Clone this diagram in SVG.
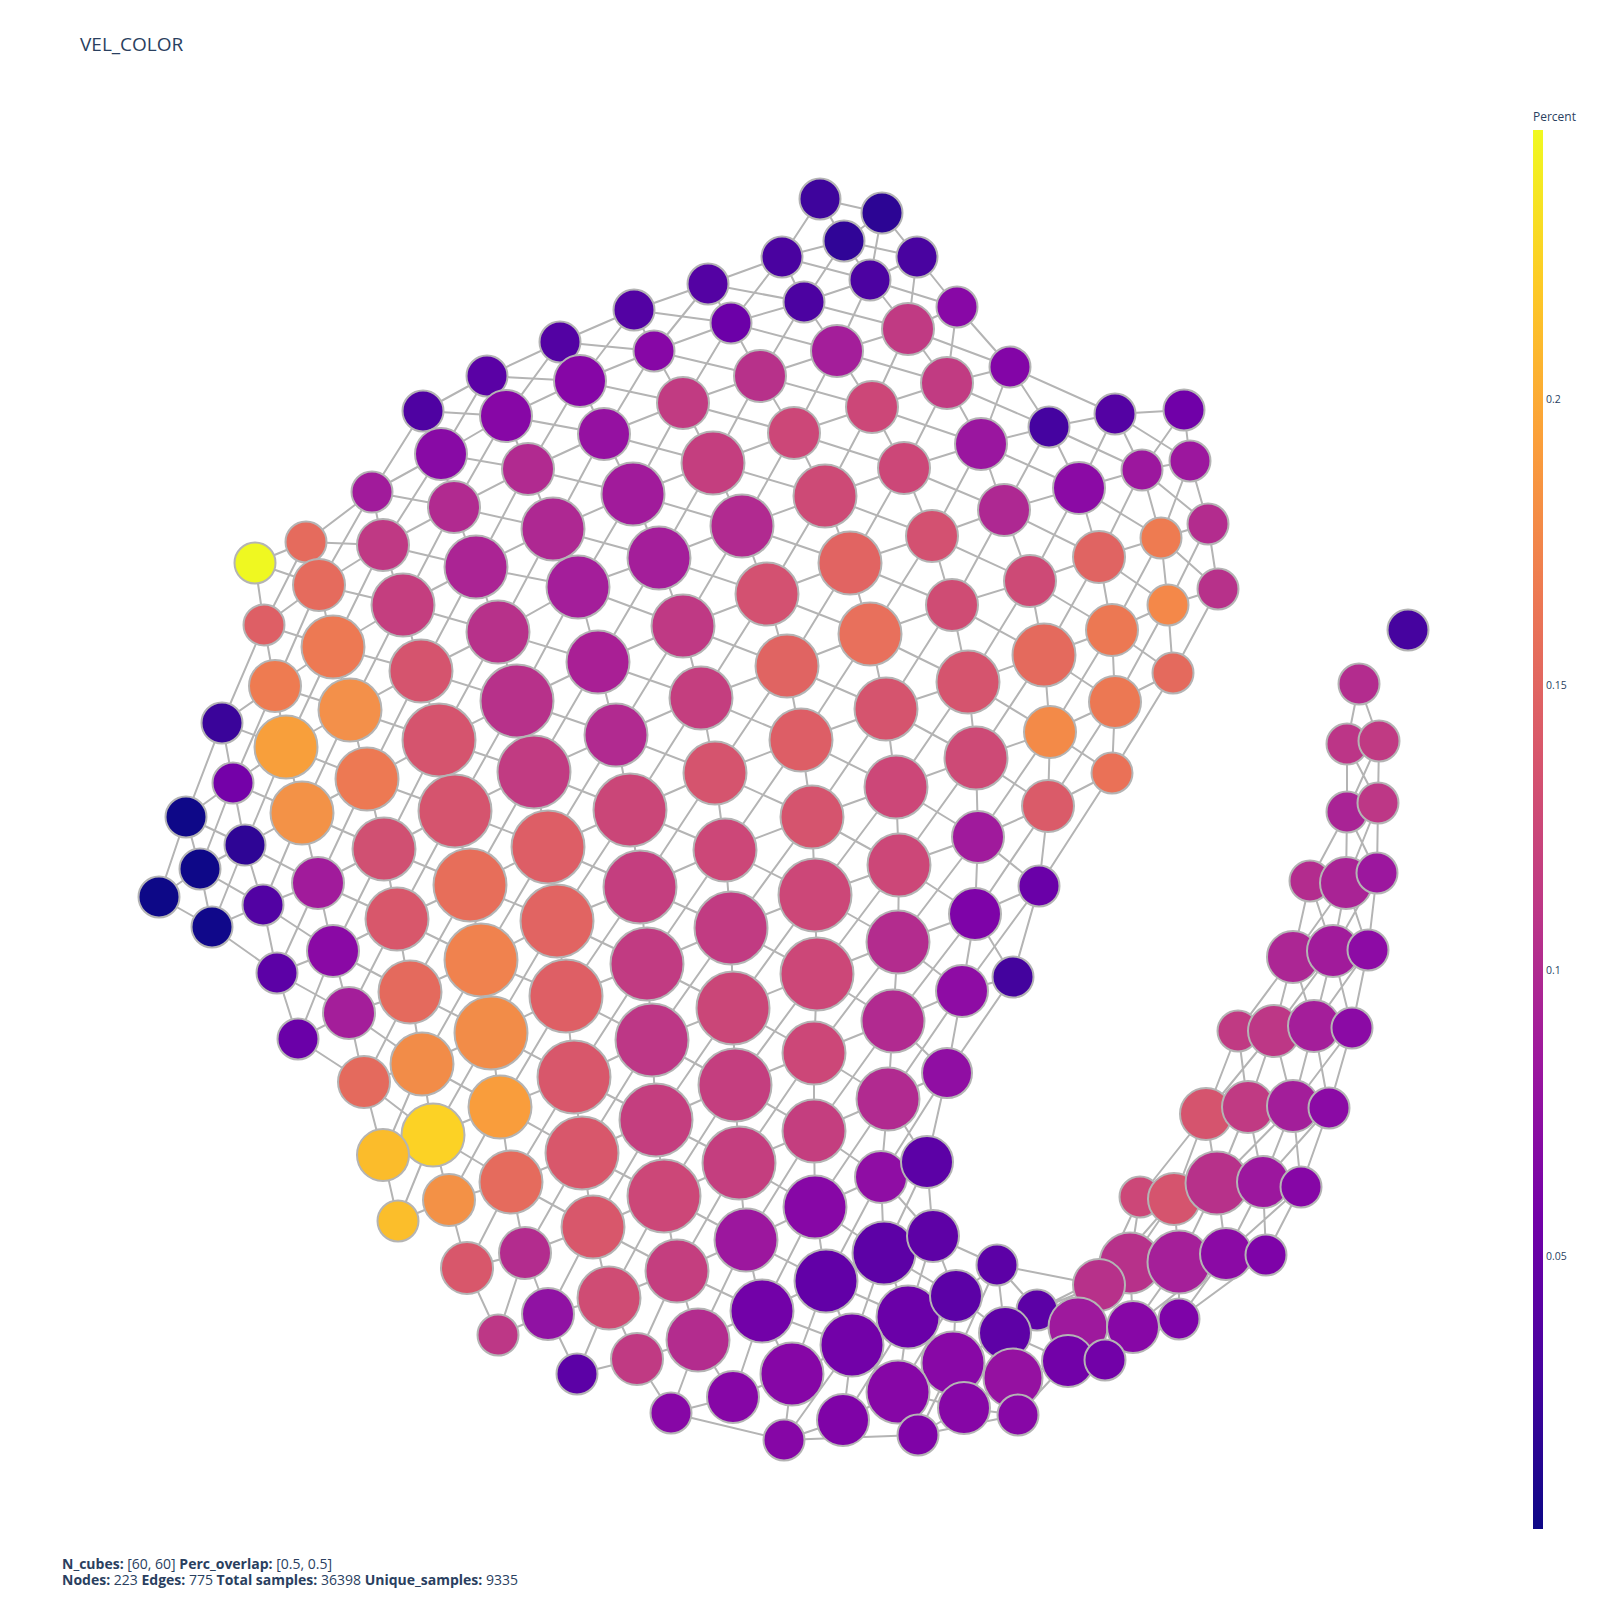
<svg xmlns="http://www.w3.org/2000/svg" width="1600" height="1600" viewBox="0 0 1600 1600">
<style>
.e path{fill:none;stroke:#b4b4b4;stroke-width:2;stroke-linejoin:round}
#nodes circle{stroke:#b4b4b4;stroke-width:2}
text{font-family:"Open Sans","Liberation Sans",Arial,sans-serif;fill:#2a3f5f}
.b{font-weight:bold}
</style>
<defs>
<linearGradient id="plasma" x1="0" y1="1" x2="0" y2="0">
<stop offset="0" stop-color="#0d0887"/>
<stop offset="0.111" stop-color="#46039f"/>
<stop offset="0.222" stop-color="#7201a8"/>
<stop offset="0.333" stop-color="#9c179e"/>
<stop offset="0.444" stop-color="#bd3786"/>
<stop offset="0.556" stop-color="#d8576b"/>
<stop offset="0.667" stop-color="#ed7953"/>
<stop offset="0.778" stop-color="#fb9f3a"/>
<stop offset="0.889" stop-color="#fdca26"/>
<stop offset="1" stop-color="#f0f921"/>
</linearGradient>
</defs>
<rect width="1600" height="1600" fill="#ffffff"/>
<text x="80" y="51" font-size="19">VEL_COLOR</text>
<g id="edges" class="e">
<path d="M186 817L200 869L212 927"/>
<path d="M222 723L233 783L245 845L263 905L277 973L298 1039"/>
<path d="M255 563L264 625L275 686L286 747L302 813L318 883L333 951L349 1013L364 1082L383 1155L398 1221"/>
<path d="M306 542L319 585L333 647L350 710L367 779L384 849L397 919L410 992L422 1064L433 1135L449 1200L467 1268L498 1335"/>
<path d="M372 492L383 545L403 605L421 671L439 740L455 811L470 885L481 960L491 1033L500 1107L511 1182L525 1253L548 1314L577 1374"/>
<path d="M423 411L441 454L454 507L476 567L498 632L517 701L534 772L548 847L557 921L566 996L574 1077L582 1153L593 1227L609 1298L637 1359L671 1413"/>
<path d="M487 376L506 416L528 469L553 529L578 587L598 662L616 735L630 810L640 887L647 964L652 1040L656 1120L664 1196L677 1271L698 1340L733 1397"/>
<path d="M560 342L580 381L604 434L633 494L659 558L683 626L701 698L715 773L725 850L731 928L733 1008L735 1085L739 1163L746 1240L762 1311L792 1374L784 1440"/>
<path d="M634 310L654 351L683 403L713 463L742 526L767 594L787 666L801 740L812 817L815 895L817 974L814 1053L814 1131L815 1207L826 1281L852 1345L843 1420"/>
<path d="M708 284L731 323L760 376L794 433L825 496L850 563L870 634L886 709L896 787L899 865L898 942L893 1021L888 1099L881 1177L884 1253L908 1317L898 1392L918 1435"/>
<path d="M782 257L804 302L837 351L872 407L904 468L932 536L952 605L968 682L976 758L978 837L975 914L962 991L947 1073L927 1162L933 1236L956 1296L953 1363L964 1408"/>
<path d="M820 199L844 241L870 280L908 329L947 383L981 444L1004 510L1030 581L1044 655L1050 732L1048 806L1039 886L1013 977"/>
<path d="M997 1265L1005 1333L1013 1378L1018 1415"/>
<path d="M882 213L917 257L957 307L1010 367L1049 427L1079 488L1099 557L1112 630L1115 702L1112 773"/>
<path d="M1115 414L1142 470L1161 538L1168 605L1173 673"/>
<path d="M1184 410L1190 461L1208 524L1218 589"/>
<path d="M423 411L487 376L560 342L634 310L708 284L782 257L844 241L882 213"/>
<path d="M255 563L306 542L372 492L441 454L506 416L580 381L654 351L731 323L804 302L870 280L917 257"/>
<path d="M264 625L319 585L383 545L454 507L528 469L604 434L683 403L760 376L837 351L908 329L957 307"/>
<path d="M222 723L275 686L333 647L403 605L476 567L553 529L633 494L713 463L794 433L872 407L947 383L1010 367"/>
<path d="M186 817L233 783L286 747L350 710L421 671L498 632L578 587L659 558L742 526L825 496L904 468L981 444L1049 427L1115 414L1184 410"/>
<path d="M159 897L200 869L245 845L302 813L367 779L439 740L517 701L598 662L683 626L767 594L850 563L932 536L1004 510L1079 488L1142 470L1190 461"/>
<path d="M212 927L263 905L318 883L384 849L455 811L534 772L616 735L701 698L787 666L870 634L952 605L1030 581L1099 557L1161 538L1208 524"/>
<path d="M277 973L333 951L397 919L470 885L548 847L630 810L715 773L801 740L886 709L968 682L1044 655L1112 630L1168 605L1218 589"/>
<path d="M298 1039L349 1013L410 992L481 960L557 921L640 887L725 850L812 817L896 787L976 758L1050 732L1115 702L1173 673"/>
<path d="M364 1082L422 1064L491 1033L566 996L647 964L731 928L815 895L899 865L978 837L1048 806L1112 773"/>
<path d="M383 1155L433 1135L500 1107L574 1077L652 1040L733 1008L817 974L898 942L975 914L1039 886"/>
<path d="M398 1221L449 1200L511 1182L582 1153L656 1120L735 1085L814 1053L893 1021L962 991L1013 977"/>
<path d="M467 1268L525 1253L593 1227L664 1196L739 1163L814 1131L888 1099L947 1073"/>
<path d="M498 1335L548 1314L609 1298L677 1271L746 1240L815 1207L881 1177L927 1162"/>
<path d="M577 1374L637 1359L698 1340L762 1311L826 1281L884 1253L933 1236"/>
<path d="M671 1413L733 1397L792 1374L852 1345L908 1317L956 1296L997 1265"/>
<path d="M784 1440L843 1420L898 1392L953 1363L1005 1333"/>
<path d="M918 1435L964 1408L1013 1378"/>
<path d="M298 1039L364 1082L433 1135L511 1182L593 1227L677 1271L762 1311L852 1345L898 1392L964 1408L1018 1415"/>
<path d="M159 897L212 927L277 973L349 1013L422 1064L500 1107L582 1153L664 1196L746 1240L826 1281L908 1317L953 1363L1013 1378"/>
<path d="M200 869L263 905L333 951L410 992L491 1033L574 1077L656 1120L739 1163L815 1207L884 1253L956 1296L1005 1333"/>
<path d="M186 817L245 845L318 883L397 919L481 960L566 996L652 1040L735 1085L814 1131L881 1177L933 1236L997 1265"/>
<path d="M233 783L302 813L384 849L470 885L557 921L647 964L733 1008L814 1053L888 1099L927 1162"/>
<path d="M222 723L286 747L367 779L455 811L548 847L640 887L731 928L817 974L893 1021L947 1073"/>
<path d="M275 686L350 710L439 740L534 772L630 810L725 850L815 895L898 942L962 991"/>
<path d="M264 625L333 647L421 671L517 701L616 735L715 773L812 817L899 865L975 914L1013 977"/>
<path d="M255 563L319 585L403 605L498 632L598 662L701 698L801 740L896 787L978 837L1039 886"/>
<path d="M306 542L383 545L476 567L578 587L683 626L787 666L886 709L976 758L1048 806"/>
<path d="M372 492L454 507L553 529L659 558L767 594L870 634L968 682L1050 732L1112 773"/>
<path d="M441 454L528 469L633 494L742 526L850 563L952 605L1044 655L1115 702"/>
<path d="M423 411L506 416L604 434L713 463L825 496L932 536L1030 581L1112 630L1173 673"/>
<path d="M487 376L580 381L683 403L794 433L904 468L1004 510L1099 557L1168 605"/>
<path d="M560 342L654 351L760 376L872 407L981 444L1079 488L1161 538L1218 589"/>
<path d="M634 310L731 323L837 351L947 383L1049 427L1142 470L1208 524"/>
<path d="M708 284L804 302L908 329L1010 367L1115 414L1190 461"/>
<path d="M782 257L870 280L957 307"/>
<path d="M844 241L917 257"/>
<path d="M820 199L882 213"/>
<path d="M159 897L186 817L222 723L264 625L306 542"/>
<path d="M200 869L233 783L275 686L319 585L372 492L423 411"/>
<path d="M212 927L245 845L286 747L333 647L383 545L441 454L487 376"/>
<path d="M263 905L302 813L350 710L403 605L454 507L506 416L560 342"/>
<path d="M277 973L318 883L367 779L421 671L476 567L528 469L580 381L634 310"/>
<path d="M298 1039L333 951L384 849L439 740L498 632L553 529L604 434L654 351L708 284"/>
<path d="M349 1013L397 919L455 811L517 701L578 587L633 494L683 403L731 323L782 257L820 199"/>
<path d="M364 1082L410 992L470 885L534 772L598 662L659 558L713 463L760 376L804 302L844 241"/>
<path d="M383 1155L422 1064L481 960L548 847L616 735L683 626L742 526L794 433L837 351L870 280L882 213"/>
<path d="M398 1221L433 1135L491 1033L557 921L630 810L701 698L767 594L825 496L872 407L908 329L917 257"/>
<path d="M449 1200L500 1107L566 996L640 887L715 773L787 666L850 563L904 468L947 383L957 307"/>
<path d="M467 1268L511 1182L574 1077L647 964L725 850L801 740L870 634L932 536L981 444L1010 367"/>
<path d="M498 1335L525 1253L582 1153L652 1040L731 928L812 817L886 709L952 605L1004 510L1049 427"/>
<path d="M548 1314L593 1227L656 1120L733 1008L815 895L896 787L968 682L1030 581L1079 488L1115 414"/>
<path d="M577 1374L609 1298L664 1196L735 1085L817 974L899 865L976 758L1044 655L1099 557L1142 470L1184 410"/>
<path d="M637 1359L677 1271L739 1163L814 1053L898 942L978 837L1050 732L1112 630L1161 538L1190 461"/>
<path d="M671 1413L698 1340L746 1240L814 1131L893 1021L975 914L1048 806L1115 702L1168 605L1208 524"/>
<path d="M733 1397L762 1311L815 1207L888 1099L962 991L1039 886L1112 773L1173 673L1218 589"/>
<path d="M792 1374L826 1281L881 1177L947 1073L1013 977"/>
<path d="M784 1440L852 1345L884 1253L927 1162"/>
<path d="M843 1420L908 1317L933 1236"/>
<path d="M898 1392L956 1296"/>
<path d="M918 1435L953 1363L997 1265"/>
<path d="M964 1408L1005 1333"/>
<path d="M671 1413L784 1440L918 1435L1018 1415"/>
<path d="M1359 684L1347 744M1359 684L1379 741M1347 744L1379 741M1347 744L1347 812M1379 741L1378 803M1347 744L1378 803M1379 741L1347 812M1347 812L1378 803M1347 812L1310 881M1347 812L1346 883M1347 812L1377 873M1378 803L1346 883M1378 803L1377 873M1310 881L1346 883L1377 873"/>
<path d="M1310 881L1293 957M1310 881L1333 951M1346 883L1293 957M1346 883L1333 951M1346 883L1368 950M1377 873L1333 951M1377 873L1368 950M1293 957L1333 951L1368 950"/>
<path d="M1293 957L1238 1031M1293 957L1274 1031M1293 957L1314 1026M1333 951L1274 1031M1333 951L1314 1026M1333 951L1352 1028M1368 950L1314 1026M1368 950L1352 1028M1238 1031L1274 1031L1314 1026L1352 1028"/>
<path d="M1238 1031L1206 1114M1238 1031L1248 1107M1274 1031L1206 1114M1274 1031L1248 1107M1274 1031L1293 1106M1314 1026L1293 1106M1314 1026L1329 1108M1352 1028L1293 1106M1352 1028L1329 1108M1206 1114L1248 1107L1293 1106L1329 1108"/>
<path d="M1206 1114L1140 1197M1206 1114L1174 1199M1206 1114L1217 1183M1248 1107L1217 1183M1248 1107L1263 1182M1293 1106L1217 1183M1293 1106L1263 1182M1293 1106L1301 1187M1329 1108L1263 1182M1329 1108L1301 1187M1140 1197L1174 1199L1217 1183L1263 1182L1301 1187"/>
<path d="M1140 1197L1099 1285M1140 1197L1130 1263M1174 1199L1130 1263M1174 1199L1099 1285M1174 1199L1179 1262M1217 1183L1179 1262M1217 1183L1226 1254M1263 1182L1226 1254M1263 1182L1266 1255M1301 1187L1266 1255M1301 1187L1226 1254M1099 1285L1130 1263L1179 1262L1226 1254L1266 1255"/>
<path d="M1099 1285L1037 1310M1099 1285L1078 1327M1130 1263L1037 1310M1130 1263L1078 1327M1130 1263L1133 1327M1179 1262L1133 1327M1179 1262L1179 1319M1226 1254L1179 1319M1226 1254L1133 1327M1266 1255L1179 1319M1037 1310L1078 1327L1133 1327L1179 1319"/>
<path d="M1037 1310L1068 1361M1078 1327L1068 1361M1078 1327L1105 1360M1133 1327L1105 1360M1179 1319L1105 1360M1068 1361L1105 1360M997 1265L1037 1310M997 1265L1099 1285M1005 1333L1037 1310M1005 1333L1068 1361M1013 1378L1068 1361M1018 1415L1068 1361"/>
</g>
<g id="nodes">
<g id="n1"><circle cx="820" cy="199" r="20.5" fill="#3e049c"/></g>
<g id="n2"><circle cx="882" cy="213" r="20.5" fill="#2c0594"/></g>
<g id="n3"><circle cx="844" cy="241" r="20.5" fill="#300597"/></g>
<g id="n4"><circle cx="782" cy="257" r="20.5" fill="#4a02a0"/></g>
<g id="n5"><circle cx="917" cy="257" r="20.5" fill="#4903a0"/></g>
<g id="n6"><circle cx="708" cy="284" r="20.5" fill="#5402a3"/></g>
<g id="n7"><circle cx="870" cy="280" r="20.5" fill="#4c02a1"/></g>
<g id="n8"><circle cx="804" cy="302" r="20.5" fill="#4c02a1"/></g>
<g id="n9"><circle cx="634" cy="310" r="20.5" fill="#5302a3"/></g>
<g id="n10"><circle cx="957" cy="307" r="20.5" fill="#8808a6"/></g>
<g id="n11"><circle cx="731" cy="323" r="20.5" fill="#6c00a8"/></g>
<g id="n12"><circle cx="908" cy="329" r="26" fill="#c03a83"/></g>
<g id="n13"><circle cx="560" cy="342" r="20.5" fill="#5302a3"/></g>
<g id="n14"><circle cx="654" cy="351" r="20.5" fill="#8707a6"/></g>
<g id="n15"><circle cx="837" cy="351" r="26" fill="#a41e9a"/></g>
<g id="n16"><circle cx="1010" cy="367" r="20.5" fill="#8305a7"/></g>
<g id="n17"><circle cx="580" cy="381" r="26" fill="#8606a6"/></g>
<g id="n18"><circle cx="760" cy="376" r="26" fill="#b7318a"/></g>
<g id="n19"><circle cx="947" cy="383" r="26" fill="#c13b82"/></g>
<g id="n20"><circle cx="487" cy="376" r="20.5" fill="#5a01a5"/></g>
<g id="n21"><circle cx="423" cy="411" r="20.5" fill="#4f02a2"/></g>
<g id="n22"><circle cx="506" cy="416" r="26" fill="#8707a6"/></g>
<g id="n23"><circle cx="683" cy="403" r="26" fill="#c13b82"/></g>
<g id="n24"><circle cx="872" cy="407" r="26" fill="#cc4778"/></g>
<g id="n25"><circle cx="1049" cy="427" r="20.5" fill="#4503a0"/></g>
<g id="n26"><circle cx="1115" cy="414" r="20.5" fill="#5402a3"/></g>
<g id="n27"><circle cx="1184" cy="410" r="20.5" fill="#7000a8"/></g>
<g id="n28"><circle cx="604" cy="434" r="26" fill="#9511a1"/></g>
<g id="n29"><circle cx="794" cy="433" r="26" fill="#cc4778"/></g>
<g id="n30"><circle cx="981" cy="444" r="26" fill="#9a169f"/></g>
<g id="n31"><circle cx="441" cy="454" r="26" fill="#880aa5"/></g>
<g id="n32"><circle cx="1142" cy="470" r="20.5" fill="#9c179e"/></g>
<g id="n33"><circle cx="1190" cy="461" r="20.5" fill="#9c179e"/></g>
<g id="n34"><circle cx="528" cy="469" r="26" fill="#b12a90"/></g>
<g id="n35"><circle cx="713" cy="463" r="31.5" fill="#c43e7f"/></g>
<g id="n36"><circle cx="904" cy="468" r="26" fill="#cc4778"/></g>
<g id="n37"><circle cx="1079" cy="488" r="26" fill="#8b0aa5"/></g>
<g id="n38"><circle cx="372" cy="492" r="20.5" fill="#a11b9b"/></g>
<g id="n39"><circle cx="454" cy="507" r="26" fill="#b12a90"/></g>
<g id="n40"><circle cx="633" cy="494" r="31.5" fill="#a11b9b"/></g>
<g id="n41"><circle cx="825" cy="496" r="31.5" fill="#cd4a76"/></g>
<g id="n42"><circle cx="1004" cy="510" r="26" fill="#ae2892"/></g>
<g id="n43"><circle cx="553" cy="529" r="31.5" fill="#ae2892"/></g>
<g id="n44"><circle cx="742" cy="526" r="31.5" fill="#b12a90"/></g>
<g id="n45"><circle cx="932" cy="536" r="26" fill="#d35171"/></g>
<g id="n46"><circle cx="1161" cy="538" r="20.5" fill="#ee7b51"/></g>
<g id="n47"><circle cx="1208" cy="524" r="20.5" fill="#b32c8e"/></g>
<g id="n48"><circle cx="306" cy="542" r="20.5" fill="#e56b5d"/></g>
<g id="n49"><circle cx="255" cy="563" r="20.5" fill="#eff821"/></g>
<g id="n50"><circle cx="383" cy="545" r="26" fill="#bf3984"/></g>
<g id="n51"><circle cx="476" cy="567" r="31.5" fill="#ab2494"/></g>
<g id="n52"><circle cx="659" cy="558" r="31.5" fill="#a41e9a"/></g>
<g id="n53"><circle cx="850" cy="563" r="31.5" fill="#e16462"/></g>
<g id="n54"><circle cx="1099" cy="557" r="26" fill="#e06462"/></g>
<g id="n55"><circle cx="1030" cy="581" r="26" fill="#cd4a76"/></g>
<g id="n56"><circle cx="319" cy="585" r="26" fill="#e56b5d"/></g>
<g id="n57"><circle cx="403" cy="605" r="31.5" fill="#c43e7f"/></g>
<g id="n58"><circle cx="578" cy="587" r="31.5" fill="#a41e9a"/></g>
<g id="n59"><circle cx="767" cy="594" r="31.5" fill="#d35171"/></g>
<g id="n60"><circle cx="952" cy="605" r="26" fill="#cf4c74"/></g>
<g id="n61"><circle cx="1168" cy="605" r="20.5" fill="#f48849"/></g>
<g id="n62"><circle cx="1218" cy="589" r="20.5" fill="#b7318a"/></g>
<g id="n63"><circle cx="1112" cy="630" r="26" fill="#ec7853"/></g>
<g id="n64"><circle cx="1408" cy="630" r="20.5" fill="#46039f"/></g>
<g id="n65"><circle cx="264" cy="625" r="20.5" fill="#de5f65"/></g>
<g id="n66"><circle cx="333" cy="647" r="31.5" fill="#ed7953"/></g>
<g id="n67"><circle cx="498" cy="632" r="31.5" fill="#b7318a"/></g>
<g id="n68"><circle cx="683" cy="626" r="31.5" fill="#bf3984"/></g>
<g id="n69"><circle cx="870" cy="634" r="31.5" fill="#e8705c"/></g>
<g id="n70"><circle cx="421" cy="671" r="31.5" fill="#d5546e"/></g>
<g id="n71"><circle cx="275" cy="686" r="26" fill="#ee7b51"/></g>
<g id="n72"><circle cx="350" cy="710" r="31.5" fill="#f3904a"/></g>
<g id="n73"><circle cx="517" cy="701" r="36.5" fill="#b7318a"/></g>
<g id="n74"><circle cx="598" cy="662" r="31.5" fill="#a91f95"/></g>
<g id="n75"><circle cx="787" cy="666" r="31.5" fill="#e06462"/></g>
<g id="n76"><circle cx="968" cy="682" r="31.5" fill="#d5546e"/></g>
<g id="n77"><circle cx="1044" cy="655" r="31.5" fill="#e46a5d"/></g>
<g id="n78"><circle cx="1173" cy="673" r="20.5" fill="#e46a5d"/></g>
<g id="n79"><circle cx="1359" cy="684" r="20.5" fill="#b32c8e"/></g>
<g id="n80"><circle cx="222" cy="723" r="20.5" fill="#3a049a"/></g>
<g id="n81"><circle cx="286" cy="747" r="31.5" fill="#f89f3b"/></g>
<g id="n82"><circle cx="439" cy="740" r="36.5" fill="#d5546e"/></g>
<g id="n83"><circle cx="616" cy="735" r="31.5" fill="#b12a90"/></g>
<g id="n84"><circle cx="701" cy="698" r="31.5" fill="#c43e7f"/></g>
<g id="n85"><circle cx="886" cy="709" r="31.5" fill="#d5546e"/></g>
<g id="n86"><circle cx="1115" cy="702" r="26" fill="#ec7853"/></g>
<g id="n87"><circle cx="1050" cy="732" r="26" fill="#f38a48"/></g>
<g id="n88"><circle cx="1347" cy="744" r="20.5" fill="#bc3587"/></g>
<g id="n89"><circle cx="1379" cy="741" r="20.5" fill="#c03a83"/></g>
<g id="n90"><circle cx="233" cy="783" r="20.5" fill="#7401a8"/></g>
<g id="n91"><circle cx="367" cy="779" r="31.5" fill="#ed7953"/></g>
<g id="n92"><circle cx="534" cy="772" r="36.5" fill="#c13b82"/></g>
<g id="n93"><circle cx="801" cy="740" r="31.5" fill="#dd5e66"/></g>
<g id="n94"><circle cx="976" cy="758" r="31.5" fill="#cd4a76"/></g>
<g id="n95"><circle cx="715" cy="773" r="31.5" fill="#d5546e"/></g>
<g id="n96"><circle cx="1112" cy="773" r="20.5" fill="#ea7157"/></g>
<g id="n97"><circle cx="186" cy="817" r="20.5" fill="#0e0888"/></g>
<g id="n98"><circle cx="302" cy="813" r="31.5" fill="#f39247"/></g>
<g id="n99"><circle cx="455" cy="811" r="36.5" fill="#d5546e"/></g>
<g id="n100"><circle cx="630" cy="810" r="36.5" fill="#ca4678"/></g>
<g id="n101"><circle cx="896" cy="787" r="31.5" fill="#cc4778"/></g>
<g id="n102"><circle cx="1048" cy="806" r="26" fill="#da5b69"/></g>
<g id="n103"><circle cx="1347" cy="812" r="20.5" fill="#a92395"/></g>
<g id="n104"><circle cx="1378" cy="803" r="20.5" fill="#bd3786"/></g>
<g id="n105"><circle cx="245" cy="845" r="20.5" fill="#2e0595"/></g>
<g id="n106"><circle cx="384" cy="849" r="31.5" fill="#d05072"/></g>
<g id="n107"><circle cx="548" cy="847" r="36.5" fill="#dd5e66"/></g>
<g id="n108"><circle cx="812" cy="817" r="31.5" fill="#d5546e"/></g>
<g id="n109"><circle cx="725" cy="850" r="31.5" fill="#cc4778"/></g>
<g id="n110"><circle cx="978" cy="837" r="26" fill="#a01a9c"/></g>
<g id="n111"><circle cx="200" cy="869" r="20.5" fill="#0e0888"/></g>
<g id="n112"><circle cx="318" cy="883" r="26" fill="#a11b9b"/></g>
<g id="n113"><circle cx="470" cy="885" r="36.5" fill="#e76e5a"/></g>
<g id="n114"><circle cx="640" cy="887" r="36.5" fill="#c43e7f"/></g>
<g id="n115"><circle cx="899" cy="865" r="31.5" fill="#cc4778"/></g>
<g id="n116"><circle cx="1039" cy="886" r="20.5" fill="#6a00a8"/></g>
<g id="n117"><circle cx="1310" cy="881" r="20.5" fill="#b32c8e"/></g>
<g id="n118"><circle cx="1346" cy="883" r="26" fill="#a92395"/></g>
<g id="n119"><circle cx="1377" cy="873" r="20.5" fill="#9c179e"/></g>
<g id="n120"><circle cx="159" cy="897" r="20.5" fill="#0d0887"/></g>
<g id="n121"><circle cx="263" cy="905" r="20.5" fill="#5202a3"/></g>
<g id="n122"><circle cx="397" cy="919" r="31.5" fill="#d8576b"/></g>
<g id="n123"><circle cx="557" cy="921" r="36.5" fill="#e16462"/></g>
<g id="n124"><circle cx="815" cy="895" r="36.5" fill="#cc4778"/></g>
<g id="n125"><circle cx="975" cy="914" r="26" fill="#7e03a8"/></g>
<g id="n126"><circle cx="212" cy="927" r="20.5" fill="#10088a"/></g>
<g id="n127"><circle cx="333" cy="951" r="26" fill="#8a09a5"/></g>
<g id="n128"><circle cx="481" cy="960" r="36.5" fill="#f0824e"/></g>
<g id="n129"><circle cx="731" cy="928" r="36.5" fill="#c13b82"/></g>
<g id="n130"><circle cx="898" cy="942" r="31.5" fill="#b32c8e"/></g>
<g id="n131"><circle cx="1293" cy="957" r="26" fill="#ac2694"/></g>
<g id="n132"><circle cx="1333" cy="951" r="26" fill="#a11b9b"/></g>
<g id="n133"><circle cx="1368" cy="950" r="20.5" fill="#8d0ba5"/></g>
<g id="n134"><circle cx="277" cy="973" r="20.5" fill="#5c01a6"/></g>
<g id="n135"><circle cx="410" cy="992" r="31.5" fill="#e46a5d"/></g>
<g id="n136"><circle cx="566" cy="996" r="36.5" fill="#de5f65"/></g>
<g id="n137"><circle cx="647" cy="964" r="36.5" fill="#c13b82"/></g>
<g id="n138"><circle cx="817" cy="974" r="36.5" fill="#cc4778"/></g>
<g id="n139"><circle cx="962" cy="991" r="26" fill="#8e0ca4"/></g>
<g id="n140"><circle cx="1013" cy="977" r="20.5" fill="#44039e"/></g>
<g id="n141"><circle cx="349" cy="1013" r="26" fill="#a41e9a"/></g>
<g id="n142"><circle cx="298" cy="1039" r="20.5" fill="#6a00a8"/></g>
<g id="n143"><circle cx="491" cy="1033" r="36.5" fill="#f28c48"/></g>
<g id="n144"><circle cx="733" cy="1008" r="36.5" fill="#ca4678"/></g>
<g id="n145"><circle cx="893" cy="1021" r="31.5" fill="#b12a90"/></g>
<g id="n146"><circle cx="1238" cy="1031" r="20.5" fill="#c03a83"/></g>
<g id="n147"><circle cx="1274" cy="1031" r="26" fill="#bd3786"/></g>
<g id="n148"><circle cx="1314" cy="1026" r="26" fill="#a41e9a"/></g>
<g id="n149"><circle cx="1352" cy="1028" r="20.5" fill="#8b0aa5"/></g>
<g id="n150"><circle cx="652" cy="1040" r="36.5" fill="#bd3786"/></g>
<g id="n151"><circle cx="814" cy="1053" r="31.5" fill="#cc4778"/></g>
<g id="n152"><circle cx="364" cy="1082" r="26" fill="#e46a5d"/></g>
<g id="n153"><circle cx="422" cy="1064" r="31.5" fill="#f28c48"/></g>
<g id="n154"><circle cx="574" cy="1077" r="36.5" fill="#d8576b"/></g>
<g id="n155"><circle cx="947" cy="1073" r="25" fill="#900ea3"/></g>
<g id="n156"><circle cx="735" cy="1085" r="36.5" fill="#c43e7f"/></g>
<g id="n157"><circle cx="500" cy="1107" r="31.5" fill="#f99d3c"/></g>
<g id="n158"><circle cx="656" cy="1120" r="36.5" fill="#c43e7f"/></g>
<g id="n159"><circle cx="888" cy="1099" r="31.5" fill="#b12a90"/></g>
<g id="n160"><circle cx="1206" cy="1114" r="26" fill="#d5546e"/></g>
<g id="n161"><circle cx="1248" cy="1107" r="26" fill="#c03a83"/></g>
<g id="n162"><circle cx="1293" cy="1106" r="26" fill="#a31e9a"/></g>
<g id="n163"><circle cx="1329" cy="1108" r="20.5" fill="#8b0aa5"/></g>
<g id="n164"><circle cx="433" cy="1135" r="31.5" fill="#fcd225"/></g>
<g id="n165"><circle cx="383" cy="1155" r="26" fill="#fbbc2b"/></g>
<g id="n166"><circle cx="582" cy="1153" r="36.5" fill="#d8576b"/></g>
<g id="n167"><circle cx="739" cy="1163" r="36.5" fill="#c43e7f"/></g>
<g id="n168"><circle cx="814" cy="1131" r="31.5" fill="#c43e7f"/></g>
<g id="n169"><circle cx="881" cy="1177" r="26" fill="#8f0da4"/></g>
<g id="n170"><circle cx="927" cy="1162" r="26" fill="#5c01a6"/></g>
<g id="n171"><circle cx="511" cy="1182" r="31.5" fill="#e56b5d"/></g>
<g id="n172"><circle cx="449" cy="1200" r="26" fill="#f39146"/></g>
<g id="n173"><circle cx="664" cy="1196" r="36.5" fill="#cc4778"/></g>
<g id="n174"><circle cx="1140" cy="1197" r="20.5" fill="#cc4778"/></g>
<g id="n175"><circle cx="1174" cy="1199" r="26" fill="#d5546e"/></g>
<g id="n176"><circle cx="1217" cy="1183" r="31.5" fill="#b7318a"/></g>
<g id="n177"><circle cx="1263" cy="1182" r="26" fill="#9c179e"/></g>
<g id="n178"><circle cx="1301" cy="1187" r="20.5" fill="#8606a6"/></g>
<g id="n179"><circle cx="398" cy="1221" r="20.5" fill="#fbbe2b"/></g>
<g id="n180"><circle cx="593" cy="1227" r="31.5" fill="#d8576b"/></g>
<g id="n181"><circle cx="815" cy="1207" r="31.5" fill="#8707a6"/></g>
<g id="n182"><circle cx="746" cy="1240" r="31.5" fill="#9c179e"/></g>
<g id="n183"><circle cx="884" cy="1253" r="31.5" fill="#5d01a6"/></g>
<g id="n184"><circle cx="933" cy="1236" r="26" fill="#5e01a6"/></g>
<g id="n185"><circle cx="467" cy="1268" r="26" fill="#d8576b"/></g>
<g id="n186"><circle cx="525" cy="1253" r="26" fill="#b32c8e"/></g>
<g id="n187"><circle cx="677" cy="1271" r="31.5" fill="#c43e7f"/></g>
<g id="n188"><circle cx="997" cy="1265" r="20.5" fill="#5c01a6"/></g>
<g id="n189"><circle cx="1130" cy="1263" r="30.5" fill="#b7318a"/></g>
<g id="n190"><circle cx="1099" cy="1285" r="26" fill="#b7318a"/></g>
<g id="n191"><circle cx="1179" cy="1262" r="31.5" fill="#a51f99"/></g>
<g id="n192"><circle cx="1226" cy="1254" r="26" fill="#8b0aa5"/></g>
<g id="n193"><circle cx="1266" cy="1255" r="20.5" fill="#7e03a8"/></g>
<g id="n194"><circle cx="609" cy="1298" r="31.5" fill="#cf4c74"/></g>
<g id="n195"><circle cx="826" cy="1281" r="31.5" fill="#6200a7"/></g>
<g id="n196"><circle cx="762" cy="1311" r="31.5" fill="#7201a8"/></g>
<g id="n197"><circle cx="908" cy="1317" r="31.5" fill="#6a00a8"/></g>
<g id="n198"><circle cx="956" cy="1296" r="26" fill="#5c01a6"/></g>
<g id="n199"><circle cx="548" cy="1314" r="26" fill="#9012a3"/></g>
<g id="n200"><circle cx="1037" cy="1310" r="20.5" fill="#5c01a6"/></g>
<g id="n201"><circle cx="1078" cy="1327" r="29.5" fill="#9e199d"/></g>
<g id="n202"><circle cx="1133" cy="1327" r="26" fill="#8707a6"/></g>
<g id="n203"><circle cx="1179" cy="1319" r="20.5" fill="#7e03a8"/></g>
<g id="n204"><circle cx="1005" cy="1333" r="26" fill="#5e01a6"/></g>
<g id="n205"><circle cx="498" cy="1335" r="20.5" fill="#bd3786"/></g>
<g id="n206"><circle cx="698" cy="1340" r="31.5" fill="#b32c8e"/></g>
<g id="n207"><circle cx="852" cy="1345" r="31.5" fill="#7201a8"/></g>
<g id="n208"><circle cx="953" cy="1363" r="31.5" fill="#8808a6"/></g>
<g id="n209"><circle cx="1068" cy="1361" r="26" fill="#7201a8"/></g>
<g id="n210"><circle cx="1105" cy="1360" r="20.5" fill="#7201a8"/></g>
<g id="n211"><circle cx="577" cy="1374" r="20.5" fill="#5c01a6"/></g>
<g id="n212"><circle cx="637" cy="1359" r="26" fill="#c03a83"/></g>
<g id="n213"><circle cx="792" cy="1374" r="31.5" fill="#8606a6"/></g>
<g id="n214"><circle cx="1013" cy="1378" r="29.5" fill="#9511a1"/></g>
<g id="n215"><circle cx="898" cy="1392" r="31.5" fill="#8606a6"/></g>
<g id="n216"><circle cx="964" cy="1408" r="26" fill="#8606a6"/></g>
<g id="n217"><circle cx="733" cy="1397" r="26" fill="#8606a6"/></g>
<g id="n218"><circle cx="671" cy="1413" r="20.5" fill="#8707a6"/></g>
<g id="n219"><circle cx="843" cy="1420" r="26" fill="#7f03a7"/></g>
<g id="n220"><circle cx="784" cy="1440" r="20.5" fill="#8606a6"/></g>
<g id="n221"><circle cx="918" cy="1435" r="20.5" fill="#7f03a7"/></g>
<g id="n222"><circle cx="1018" cy="1415" r="20.5" fill="#8707a6"/></g>
</g>
<g id="colorbar">
<text x="1533" y="121" font-size="12">Percent</text>
<rect x="1533" y="130" width="10" height="1399" fill="url(#plasma)"/>
<text x="1546" y="403" font-size="10.5">0.2</text>
<text x="1546" y="689" font-size="10.5">0.15</text>
<text x="1546" y="974" font-size="10.5">0.1</text>
<text x="1546" y="1260" font-size="10.5">0.05</text>
</g>
<g id="footer" font-size="14">
<text x="62" y="1569"><tspan class="b">N_cubes:</tspan> [60, 60] <tspan class="b">Perc_overlap:</tspan> [0.5, 0.5]</text>
<text x="62" y="1585"><tspan class="b">Nodes:</tspan> 223 <tspan class="b">Edges:</tspan> 775 <tspan class="b">Total samples:</tspan> 36398 <tspan class="b">Unique_samples:</tspan> 9335</text>
</g>
</svg>
